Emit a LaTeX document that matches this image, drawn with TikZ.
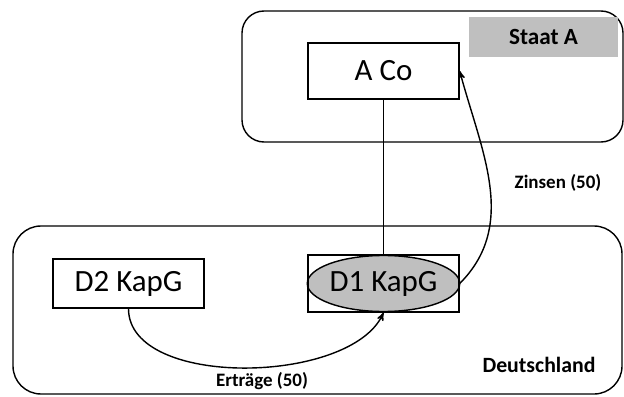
\documentclass[tikz,border=0pt]{standalone}
\usepackage{fontspec}
\setmainfont{Carlito}
\usetikzlibrary{shapes.geometric,arrows}

\begin{document}
\begin{tikzpicture}[line width=1pt,
  box/.style={draw,minimum width=3.775cm,font=\fontsize{22}{26}\selectfont},
  lbl/.style={anchor=base,font=\bfseries\fontsize{13.5}{16}\selectfont}]
\useasboundingbox (0,0) rectangle (15.6,9.9);
\draw[rounded corners=0.55cm] (6.05,6.35) rectangle (15.575,9.625);
\draw[rounded corners=0.7cm] (0.325,0.05) rectangle (15.55,4.25);

\node[fill=black!25,minimum width=3.725cm,minimum height=1cm,font=\bfseries\fontsize{16.5}{19}\selectfont] (staat) at (13.5875,8.975) {Staat A};
\node[box,minimum height=1.4cm] (aco) at (9.5875,8.125) {A Co};
\node[box,minimum height=1.225cm] (d2) at (3.2125,2.8125) {D2 KapG};
\node[draw,ellipse,fill=black!25,minimum width=3.72cm,minimum height=1.4cm,inner sep=0pt,font=\fontsize{22}{26}\selectfont] (d1e) at (9.5875,2.8125) {D1 KapG};
\node[box,minimum height=1.425cm] (d1) at (9.5875,2.8125) {};

\node[lbl] (zins) at (13.95,5.2) {Zinsen (50)};
\node[lbl] (ertr) at (6.55,0.25) {Erträge (50)};
\node[lbl,font=\bfseries\fontsize{15.5}{18}\selectfont] (de) at (13.475,0.6) {Deutschland};

\draw (aco.south)--(d1.north);
\draw[->,>=stealth'] (d1.east) to[out=45,in=-75] (aco.east);
\draw[->,>=stealth'] (d2.south) to[out=-90,in=-115,looseness=0.8] (d1.south);
\end{tikzpicture}
\end{document}
